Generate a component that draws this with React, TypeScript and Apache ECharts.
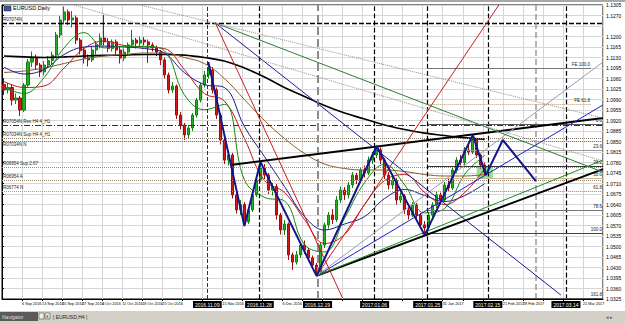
import React, { useEffect, useRef } from "react";
import * as echarts from "echarts";

// ---------- price data (EURUSD daily) ----------
const firstOpen = 1.104;
const closes = [
  1.1022, 1.103, 1.0988, 1.0995, 1.0955, 1.1038, 1.1115, 1.1128, 1.1105, 1.1082,
  1.1105, 1.112, 1.1138, 1.1205, 1.1255, 1.1282, 1.1255, 1.1262, 1.1188, 1.1155,
  1.1128, 1.1122, 1.1155, 1.1172, 1.1195, 1.1182, 1.116, 1.1182, 1.1155, 1.1128,
  1.1148, 1.1172, 1.1188, 1.1178, 1.1188, 1.1182, 1.1172, 1.1162, 1.1148, 1.1122,
  1.1072, 1.1022, 1.1035, 1.0938, 1.0905, 1.0872, 1.0895, 1.0938, 1.0988, 1.1038,
  1.1072, 1.1088, 1.1022, 1.0938, 1.0855, 1.0788, 1.0805, 1.0672, 1.0622, 1.064,
  1.0582, 1.0622, 1.0672, 1.0722, 1.0762, 1.0738, 1.0688, 1.07, 1.0605, 1.0555,
  1.0575, 1.0472, 1.0448, 1.0472, 1.0505, 1.0488, 1.0462, 1.0438, 1.0415, 1.0505,
  1.0572, 1.0605, 1.059, 1.0655, 1.0688, 1.0672, 1.0705, 1.0738, 1.0722, 1.0755,
  1.0745, 1.0788, 1.0805, 1.0822, 1.0788, 1.0738, 1.0705, 1.072, 1.0655, 1.0668,
  1.0622, 1.0605, 1.0638, 1.0605, 1.0572, 1.0562, 1.0605, 1.0638, 1.0672, 1.0655,
  1.0705, 1.0695, 1.0755, 1.0788, 1.078, 1.0822, 1.0815, 1.0855, 1.0805, 1.0772,
  1.0748,
];
const highs = [
  1.106, 1.1045, 1.104, 1.101, 1.1002, 1.1045, 1.1125, 1.115, 1.114, 1.1112,
  1.1118, 1.1135, 1.115, 1.1215, 1.1268, 1.13, 1.129, 1.1285, 1.127, 1.1195,
  1.1165, 1.114, 1.1165, 1.1185, 1.121, 1.1272, 1.1195, 1.119, 1.119, 1.1165,
  1.116, 1.118, 1.1222, 1.1195, 1.12, 1.1198, 1.119, 1.118, 1.117, 1.1155,
  1.113, 1.108, 1.1048, 1.104, 1.0948, 1.0912, 1.0905, 1.0945, 1.0995, 1.1045,
  1.1085, 1.1115, 1.1098, 1.103, 1.0945, 1.0862, 1.082, 1.0812, 1.0685, 1.0655,
  1.0648, 1.063, 1.068, 1.0735, 1.0782, 1.0775, 1.0745, 1.0712, 1.0708, 1.0612,
  1.0588, 1.058, 1.048, 1.0485, 1.0515, 1.052, 1.0495, 1.047, 1.0445, 1.0515,
  1.058, 1.0615, 1.0625, 1.0668, 1.07, 1.0698, 1.0715, 1.0748, 1.0745, 1.0765,
  1.077, 1.08, 1.0815, 1.0835, 1.083, 1.0795, 1.0748, 1.0732, 1.0728, 1.068,
  1.0675, 1.0632, 1.0648, 1.0645, 1.0612, 1.0585, 1.0615, 1.0648, 1.0685, 1.068,
  1.0715, 1.0725, 1.0765, 1.0798, 1.0805, 1.0832, 1.0845, 1.0872, 1.0862, 1.0812,
  1.078,
];
const lows = [
  1.1005, 1.101, 1.097, 1.0975, 1.0935, 1.0948, 1.103, 1.1098, 1.109, 1.1065,
  1.107, 1.1095, 1.1108, 1.113, 1.1195, 1.124, 1.1238, 1.123, 1.1175, 1.114,
  1.111, 1.11, 1.1115, 1.114, 1.116, 1.117, 1.1148, 1.115, 1.114, 1.111,
  1.1118, 1.114, 1.1165, 1.116, 1.1168, 1.117, 1.1112, 1.115, 1.1135, 1.1105,
  1.106, 1.101, 1.1012, 1.0925, 1.089, 1.0855, 1.086, 1.0885, 1.093, 1.098,
  1.103, 1.106, 1.101, 1.0925, 1.084, 1.0775, 1.077, 1.066, 1.061, 1.0605,
  1.0568, 1.0575, 1.0615, 1.0665, 1.0715, 1.0725, 1.0675, 1.067, 1.059, 1.054,
  1.0538, 1.0455, 1.0422, 1.044, 1.0462, 1.0475, 1.045, 1.0425, 1.0402, 1.041,
  1.0495, 1.056, 1.0575, 1.0582, 1.0645, 1.0655, 1.066, 1.0695, 1.0708, 1.0712,
  1.073, 1.0738, 1.0775, 1.0795, 1.0775, 1.0725, 1.069, 1.0692, 1.064, 1.0645,
  1.0608, 1.059, 1.0598, 1.0592, 1.056, 1.0538, 1.0555, 1.0595, 1.0628, 1.064,
  1.0648, 1.0685, 1.0688, 1.0745, 1.077, 1.0772, 1.0805, 1.0808, 1.0795, 1.076,
  1.0738,
];

// moving averages, one value every 5 bars
const maStep = 5;
const ma10 = [1.103, 1.101, 1.1063, 1.1162, 1.1213, 1.1162, 1.1167, 1.1167, 1.1153, 1.1006, 1.0956, 1.0974, 1.0722, 1.0664, 1.0652, 1.0506, 1.0482, 1.0594, 1.0713, 1.0774, 1.0705, 1.0612, 1.0627, 1.0741, 1.0804];
const ma20 = [1.105, 1.103, 1.1035, 1.1095, 1.116, 1.1185, 1.117, 1.1165, 1.116, 1.109, 1.101, 1.0985, 1.086, 1.072, 1.068, 1.059, 1.051, 1.054, 1.064, 1.072, 1.074, 1.068, 1.064, 1.068, 1.076];
const ma50 = [1.1098, 1.1075, 1.109, 1.114, 1.1165, 1.1168, 1.1165, 1.116, 1.1145, 1.108, 1.104, 1.103, 1.09, 1.08, 1.07, 1.06, 1.0555, 1.0575, 1.06, 1.066, 1.069, 1.067, 1.065, 1.067, 1.071];
const ma100 = [1.108, 1.1085, 1.1095, 1.111, 1.1125, 1.1135, 1.114, 1.1145, 1.1145, 1.113, 1.111, 1.106, 1.099, 1.092, 1.086, 1.081, 1.0775, 1.076, 1.0755, 1.0755, 1.075, 1.074, 1.0735, 1.0735, 1.074];
const ma200 = [1.1135, 1.1132, 1.113, 1.1132, 1.1135, 1.1137, 1.1138, 1.114, 1.114, 1.1138, 1.113, 1.1118, 1.1095, 1.1065, 1.103, 1.1, 1.097, 1.0945, 1.0925, 1.0905, 1.089, 1.0878, 1.087, 1.0862, 1.0858];

// axis
const priceMin = 1.0325;
const priceMax = 1.1305;
const priceStep = 0.0035;
const barMax = 150;
const barStep = 5;
const dateLabels = [
  "30 Aug 2016", "6 Sep 2016", "13 Sep 2016", "20 Sep 2016", "27 Sep 2016", "4 Oct 2016",
  "11 Oct 2016", "18 Oct 2016", "25 Oct 2016", "1 Nov 2016", "8 Nov 2016", "15 Nov 2016",
  "22 Nov 2016", "29 Nov 2016", "6 Dec 2016", "13 Dec 2016", "20 Dec 2016", "27 Dec 2016",
  "3 Jan 2017", "10 Jan 2017", "17 Jan 2017", "24 Jan 2017", "31 Jan 2017", "7 Feb 2017",
  "14 Feb 2017", "21 Feb 2017", "28 Feb 2017", "7 Mar 2017", "14 Mar 2017", "21 Mar 2017",
];

// horizontal levels
const hLinePrices = [1.1245, 1.0905, 1.0862, 1.0852, 1.0765, 1.0722, 1.0685];
const hLineNames = ["R07074N", "R07054N Res H4 4_H1", "R07034N Sup H4 4_H1", "R07034N N", "R06954 Sup 2.67", "R06954 A", "R06774 N"];
const currentLevel = 1.1245;

// fibonacci retracement / expansion
const fibStartBar = 106.25;
const fibLevels = ["0.0", "23.6", "38.2", "50.0", "61.8", "78.6", "100.0", "161.8"];
const fibPrices = [1.0908, 1.0822, 1.0768, 1.0728, 1.0685, 1.0622, 1.0545, 1.0328];
const feLevels = ["FE 100.0", "FE 61.8"];
const fePrices = [1.1095, 1.0975];

// vertical lines
const vLineBars = [51.25, 64.25, 78.75, 93, 106.25, 121.25, 133.25, 140.75];
const vLineDates = ["2016.11.09", "2016.11.28", "2016.12.19", "2017.01.06", "2017.01.25", "2017.02.15", "", "2017.03.14"];

// trend lines [bar, price]
const trendStart = [[57, 1.0772], [78.5, 1.0402], [78.5, 1.0402], [78.5, 1.0402], [78.5, 1.0402], [78.5, 1.0402], [53.25, 1.1245], [53.25, 1.1245], [53.25, 1.1245], [34.5, 1.1305], [18, 1.1305]];
const trendEnd = [[150, 1.0928], [150, 1.0758], [150, 1.0788], [150, 1.0972], [150, 1.1115], [124, 1.1305], [85, 1.0328], [139.5, 1.0338], [150, 1.0748], [150, 1.0928], [150, 1.0785]];

// zig-zag wave count
const zigzagBars = [51.5, 60.5, 64.5, 78.5, 93.5, 105.5, 117.5, 120.75, 125, 133.25];
const zigzagPrices = [1.1115, 1.0568, 1.0782, 1.0402, 1.0835, 1.0538, 1.0872, 1.0738, 1.0855, 1.0718];
const boxBars = [118.5, 122.5];
const boxPrices = [1.0765, 1.0725];

// ---------- styles ----------
const trendStyles = [
  { color: "#000", width: 2, type: "solid" },
  { color: "#000", width: 2, type: "solid" },
  { color: "#1e8c1e", width: 1, type: "solid" },
  { color: "#1f1fd0", width: 1, type: "solid" },
  { color: "#9a9ab8", width: 1, type: "solid" },
  { color: "#c81e1e", width: 1, type: "solid" },
  { color: "#c81e1e", width: 1, type: "solid" },
  { color: "#1a1a9a", width: 1, type: "solid" },
  { color: "#2e7d32", width: 1, type: "solid" },
  { color: "#909090", width: 1, type: "dotted" },
  { color: "#909090", width: 1, type: "dotted" },
];
const hLineStyles = [
  { color: "#000", width: 1.3, type: [5, 2] },
  { color: "#333", width: 1, type: [6, 2, 1, 2] },
  { color: "#8a7a6a", width: 1, type: "dotted" },
  { color: "#8a7a6a", width: 1, type: "dotted" },
  { color: "#a08a70", width: 1, type: "dotted" },
  { color: "#a08a70", width: 1, type: "dotted" },
  { color: "#b09a80", width: 1, type: "dotted" },
];
const hLineLabelPos = ["insideStartTop", "insideStartTop", "insideStartTop", "insideStartBottom", "insideStartTop", "insideStartTop", "insideStartTop"];
const fibStyles = [
  { color: "#555", width: 1, type: "solid" },
  { color: "#999", width: 1, type: "solid" },
  { color: "#333", width: 1, type: "solid" },
  { color: "#c8b898", width: 1, type: "solid" },
  { color: "#b8a078", width: 1, type: "dotted" },
  { color: "#777", width: 1, type: "solid" },
  { color: "#444", width: 1, type: "solid" },
  { color: "#555", width: 1, type: "solid" },
];
const feStyles = [
  { color: "#777", width: 1, type: "solid" },
  { color: "#b8a078", width: 1, type: "dotted" },
];
const vLineStyles = [
  { color: "#333", width: 1 },
  { color: "#000", width: 1.2 },
  { color: "#8c8c8c", width: 2 },
  { color: "#000", width: 1.2 },
  { color: "#000", width: 1.2 },
  { color: "#000", width: 1.2 },
  { color: "#9a9a9a", width: 1.5 },
  { color: "#000", width: 1.2 },
];
const FONT = "Liberation Sans, Arial, sans-serif";

const toPip = (p: number) => Math.round(p * 100000) / 10;

export default function App() {
  const ref = useRef<HTMLDivElement>(null);

  useEffect(() => {
    if (!ref.current) return;
    const chart = echarts.init(ref.current, undefined, { renderer: "svg" });

    const candleData = closes.map((c, i) => [
      i + 0.5,
      toPip(i === 0 ? firstOpen : closes[i - 1]),
      toPip(c),
      toPip(lows[i]),
      toPip(highs[i]),
    ]);
    const maData = (arr: number[]) => arr.map((v, k) => [k * maStep + 0.5, toPip(v)]);

    const maSeries = [
      { d: ma200, color: "#000", width: 1.6 },
      { d: ma100, color: "#8b5a2b", width: 1 },
      { d: ma50, color: "#1a1a8c", width: 1 },
      { d: ma20, color: "#c01818", width: 1 },
      { d: ma10, color: "#138a13", width: 1 },
    ].map((m) => ({
      type: "line",
      data: maData(m.d),
      showSymbol: false,
      smooth: 0.4,
      silent: true,
      z: 4,
      lineStyle: { color: m.color, width: m.width },
    }));

    const trendSeries = trendStart.map((s, k) => ({
      type: "line",
      data: [
        [s[0], toPip(s[1])],
        [trendEnd[k][0], toPip(trendEnd[k][1])],
      ],
      showSymbol: false,
      silent: true,
      z: 5,
      lineStyle: trendStyles[k],
    }));

    const markLineData: any[] = [];
    hLinePrices.forEach((p, k) => {
      markLineData.push({
        yAxis: toPip(p),
        lineStyle: hLineStyles[k],
        label: {
          show: true,
          position: hLineLabelPos[k],
          formatter: hLineNames[k],
          fontSize: 4.5,
          color: "#222",
          distance: 1,
          fontFamily: FONT,
        },
      });
    });
    markLineData.push({
      yAxis: toPip(currentLevel),
      lineStyle: { opacity: 0 },
      label: {
        show: true,
        position: "end",
        formatter: currentLevel.toFixed(4),
        backgroundColor: "#000",
        color: "#fff",
        fontSize: 5,
        padding: [1, 2],
        distance: 1,
        fontFamily: FONT,
      },
    });
    vLineBars.forEach((b, k) => {
      markLineData.push({
        xAxis: b,
        lineStyle: vLineStyles[k],
        label: {
          show: vLineDates[k] !== "",
          position: "start",
          formatter: vLineDates[k],
          backgroundColor: "#000",
          color: "#fff",
          fontSize: 5,
          padding: [1, 2],
          distance: 2,
          fontFamily: FONT,
        },
      });
    });
    fibPrices.forEach((p, k) => {
      markLineData.push([
        {
          coord: [fibStartBar, toPip(p)],
          lineStyle: fibStyles[k],
          label: {
            show: true,
            position: "insideEndTop",
            formatter: fibLevels[k],
            fontSize: 4.5,
            color: "#222",
            distance: 1,
            fontFamily: FONT,
          },
        },
        { coord: [barMax, toPip(p)] },
      ]);
    });
    fePrices.forEach((p, k) => {
      markLineData.push([
        {
          coord: [fibStartBar, toPip(p)],
          lineStyle: feStyles[k],
          label: {
            show: true,
            position: "insideEndTop",
            formatter: feLevels[k],
            fontSize: 4.5,
            color: "#222",
            distance: 1,
            fontFamily: FONT,
          },
        },
        { coord: [barMax - 3, toPip(p)] },
      ]);
    });

    // date labels hidden where a vertical-line date box covers them
    const coveredByBox = (v: number) =>
      vLineBars.some((b, k) => vLineDates[k] !== "" && v > b - 8.75 && v < b + 3.75);

    const option: any = {
      animation: false,
      backgroundColor: "#fff",
      textStyle: { fontFamily: FONT },
      grid: {
        left: 2,
        right: 22,
        top: 5,
        bottom: 25,
        show: true,
        borderColor: "#000",
        borderWidth: 1,
        backgroundColor: "#fff",
      },
      xAxis: {
        type: "value",
        min: 0,
        max: barMax,
        interval: barStep,
        axisLine: { show: true, lineStyle: { color: "#000" } },
        axisTick: { show: true, length: 2, lineStyle: { color: "#000" } },
        axisLabel: {
          fontSize: 3.8,
          color: "#000",
          align: "left",
          margin: 3,
          showMaxLabel: false,
          fontFamily: FONT,
          formatter: (v: number) => (coveredByBox(v) ? "" : dateLabels[Math.round(v / barStep)] ?? ""),
        },
        splitLine: { show: true, lineStyle: { color: "#d6d6d6", width: 1 } },
      },
      yAxis: {
        type: "value",
        position: "right",
        min: toPip(priceMin),
        max: toPip(priceMax),
        interval: toPip(priceStep),
        axisLine: { show: true, lineStyle: { color: "#000" } },
        axisTick: { show: true, length: 2, lineStyle: { color: "#000" } },
        axisLabel: {
          fontSize: 5,
          color: "#000",
          margin: 3,
          fontFamily: FONT,
          formatter: (v: number) => (Math.abs(v - toPip(currentLevel)) < 20 ? "" : (v / 10000).toFixed(4)),
        },
        splitLine: { show: true, lineStyle: { color: "#d6d6d6", width: 1 } },
      },
      series: [
        {
          type: "candlestick",
          data: candleData,
          encode: { x: 0, y: [1, 2, 3, 4] },
          barWidth: 2.6,
          z: 3,
          silent: true,
          itemStyle: {
            color: "#22b022",
            color0: "#d01818",
            borderColor: "#158015",
            borderColor0: "#9a1010",
            borderWidth: 1,
          },
          markLine: {
            silent: true,
            symbol: ["none", "none"],
            animation: false,
            data: markLineData,
          },
        },
        ...maSeries,
        ...trendSeries,
        {
          type: "line",
          data: zigzagBars.map((b, k) => [b, toPip(zigzagPrices[k])]),
          showSymbol: false,
          silent: true,
          z: 6,
          lineStyle: { color: "#14148a", width: 2 },
          markArea: {
            silent: true,
            itemStyle: { color: "#86e886" },
            data: [
              [
                { coord: [boxBars[0], toPip(boxPrices[0])] },
                { coord: [boxBars[1], toPip(boxPrices[1])] },
              ],
            ],
          },
        },
      ],
      graphic: [
        { type: "rect", shape: { x: 0, y: 0, width: 625, height: 2 }, style: { fill: "#a8a8a8" }, z: 100 },
        { type: "rect", shape: { x: 4, y: 6, width: 7, height: 5 }, style: { fill: "#3a5a9a", stroke: "#222", lineWidth: 0.5 }, z: 100 },
        { type: "text", x: 13, y: 5, style: { text: "EURUSD,Daily", fontSize: 5.5, fill: "#000", fontFamily: FONT }, z: 100 },
        { type: "rect", shape: { x: 0, y: 311, width: 625, height: 13 }, style: { fill: "#d4d0c8" }, z: 100 },
        { type: "rect", shape: { x: 0, y: 312, width: 38, height: 9 }, style: { fill: "#5a5a5a" }, z: 101 },
        { type: "text", x: 2, y: 314, style: { text: "Navigator", fontSize: 5, fill: "#ddd", fontFamily: FONT }, z: 102 },
        { type: "rect", shape: { x: 39, y: 313, width: 5, height: 6 }, style: { fill: "#eee", stroke: "#333", lineWidth: 0.5 }, z: 101 },
        { type: "rect", shape: { x: 45, y: 313, width: 5, height: 6 }, style: { fill: "#eee", stroke: "#333", lineWidth: 0.5 }, z: 101 },
        { type: "text", x: 46, y: 313, style: { text: "x", fontSize: 5, fill: "#000", fontFamily: FONT }, z: 102 },
        { type: "text", x: 53, y: 314, style: { text: "| EURUSD,H4 |", fontSize: 5, fill: "#222", fontFamily: FONT }, z: 102 },
        { type: "text", x: 606, y: 314, style: { text: "\u25C2 \u25B8", fontSize: 5, fill: "#555", fontFamily: FONT }, z: 102 },
      ],
    };

    chart.setOption(option);
    return () => chart.dispose();
  }, []);

  return (
    <div
      ref={ref}
      style={{ position: "fixed", left: 0, top: 0, width: 625, height: 324, background: "#fff" }}
    />
  );
}
